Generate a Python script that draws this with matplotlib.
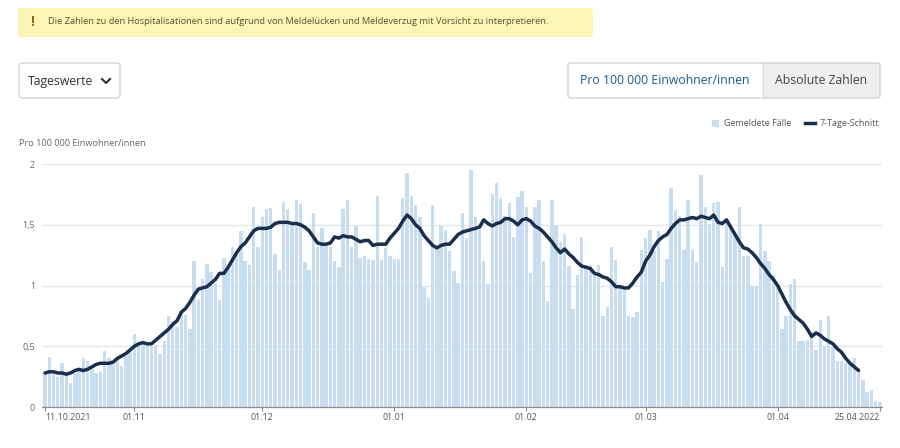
import matplotlib
matplotlib.use("Agg")
import matplotlib.pyplot as plt
import pandas as pd
from matplotlib.patches import FancyBboxPatch, Rectangle
from matplotlib.lines import Line2D

plt.rcParams['font.family'] = ['Open Sans', 'DejaVu Sans']

# daily hospitalisations per 100 000 inhabitants, from 11.10.2021
start_date = "2021-10-11"
cases = [
    0.28, 0.41, 0.29, 0.25, 0.36, 0.26, 0.20, 0.28, 0.31, 0.40,
    0.38, 0.31, 0.28, 0.29, 0.46, 0.40, 0.38, 0.42, 0.34, 0.42,
    0.47, 0.60, 0.53, 0.53, 0.53, 0.49, 0.51, 0.44, 0.54, 0.75,
    0.71, 0.66, 0.80, 0.76, 0.64, 1.20, 0.88, 1.05, 1.18, 1.11,
    1.02, 0.88, 1.23, 1.15, 1.32, 1.28, 1.45, 1.20, 1.17, 1.65,
    1.32, 1.56, 1.63, 1.64, 1.26, 1.13, 1.69, 1.63, 1.52, 1.70,
    1.67, 1.19, 1.13, 1.60, 1.32, 1.47, 1.35, 1.32, 1.20, 1.15,
    1.63, 1.70, 1.32, 1.49, 1.23, 1.24, 1.22, 1.21, 1.74, 1.21,
    1.31, 1.24, 1.22, 1.22, 1.72, 1.93, 1.74, 1.66, 1.56, 0.99,
    0.90, 1.66, 1.30, 1.49, 1.46, 1.28, 1.12, 1.02, 1.60, 1.39,
    1.95, 1.56, 1.46, 1.20, 1.01, 1.75, 1.84, 1.72, 1.57, 1.68,
    1.40, 1.73, 1.78, 1.65, 1.10, 1.65, 1.70, 1.20, 0.87, 1.70,
    1.50, 1.36, 1.42, 1.16, 0.81, 1.09, 1.40, 1.17, 1.17, 1.10,
    1.17, 0.75, 0.82, 1.32, 1.21, 0.98, 0.97, 0.75, 0.74, 0.78,
    1.29, 1.39, 1.46, 1.28, 1.45, 1.03, 1.22, 1.80, 1.62, 1.57,
    1.29, 1.70, 1.29, 1.19, 1.91, 1.65, 1.51, 1.68, 1.69, 1.15,
    1.53, 1.49, 1.43, 1.65, 1.24, 1.24, 1.00, 1.00, 1.51, 1.28,
    1.20, 1.09, 0.98, 0.64, 0.75, 1.01, 1.05, 0.54, 0.54, 0.55,
    0.62, 0.47, 0.72, 0.50, 0.75, 0.50, 0.38, 0.38, 0.36, 0.35,
    0.40, 0.32, 0.22, 0.12, 0.14, 0.05, 0.04,
]

# 7-day average, ends a few days before the last report
avg7 = [
    0.28, 0.29, 0.29, 0.28, 0.28, 0.27, 0.28, 0.30, 0.31, 0.30,
    0.31, 0.33, 0.35, 0.36, 0.36, 0.36, 0.37, 0.40, 0.42, 0.44,
    0.47, 0.50, 0.52, 0.53, 0.52, 0.52, 0.55, 0.58, 0.61, 0.64,
    0.68, 0.71, 0.78, 0.81, 0.86, 0.92, 0.97, 0.98, 0.99, 1.02,
    1.05, 1.10, 1.10, 1.15, 1.21, 1.27, 1.32, 1.35, 1.40, 1.45,
    1.47, 1.47, 1.47, 1.48, 1.51, 1.52, 1.52, 1.52, 1.51, 1.51,
    1.50, 1.48, 1.45, 1.40, 1.35, 1.34, 1.34, 1.35, 1.40, 1.39,
    1.41, 1.40, 1.40, 1.38, 1.36, 1.37, 1.37, 1.33, 1.34, 1.34,
    1.34, 1.39, 1.43, 1.47, 1.53, 1.58, 1.55, 1.50, 1.47, 1.41,
    1.37, 1.33, 1.31, 1.33, 1.34, 1.34, 1.38, 1.42, 1.44, 1.45,
    1.46, 1.47, 1.48, 1.54, 1.51, 1.49, 1.51, 1.52, 1.55, 1.55,
    1.53, 1.50, 1.54, 1.55, 1.53, 1.49, 1.47, 1.44, 1.40, 1.36,
    1.31, 1.27, 1.30, 1.26, 1.23, 1.19, 1.16, 1.15, 1.14, 1.10,
    1.09, 1.07, 1.06, 1.03, 0.99, 0.99, 0.98, 0.98, 1.02, 1.07,
    1.11, 1.20, 1.25, 1.32, 1.37, 1.40, 1.42, 1.47, 1.51, 1.54,
    1.54, 1.55, 1.56, 1.55, 1.57, 1.56, 1.55, 1.58, 1.52, 1.51,
    1.54, 1.48, 1.42, 1.36, 1.31, 1.30, 1.27, 1.23, 1.18, 1.14,
    1.09, 1.05, 1.00, 0.93, 0.86, 0.80, 0.75, 0.72, 0.69, 0.64,
    0.58, 0.61, 0.59, 0.56, 0.54, 0.52, 0.48, 0.45, 0.40, 0.36,
    0.33, 0.30,
]

y_ticks = [0, 0.5, 1, 1.5, 2]
y_tick_labels = ["0", "0,5", "1", "1,5", "2"]
x_tick_dates = ["2021-10-11", "2021-11-01", "2021-12-01", "2022-01-01",
                "2022-02-01", "2022-03-01", "2022-04-01", "2022-04-25"]
x_tick_labels = ["11.10.2021", "01.11", "01.12", "01.01",
                 "01.02", "01.03", "01.04", "25.04.2022"]

BAR_COLOR = "#c9ddf1"
LINE_COLOR = "#1b2f4c"
GREY = "#666666"

days = pd.date_range(start_date, periods=len(cases), freq="D")
avg_days = days[:len(avg7)]

W, H = 900, 448
fig = plt.figure(figsize=(W / 100, H / 100), dpi=100)


def fx(x):
    return x / W


def fy(y):
    return 1 - y / H


# --- header widgets ---
fig.patches.append(FancyBboxPatch((fx(18), fy(37)), fx(575), 29 / H,
                                  boxstyle="round,pad=0,rounding_size=0.004",
                                  transform=fig.transFigure, fc="#fcf5b6", ec="none"))
fig.text(fx(32), fy(22), "!", fontsize=10, fontweight="bold", color="#8a6a1c",
         ha="center", va="center")
fig.text(fx(48), fy(22), "Die Zahlen zu den Hospitalisationen sind aufgrund von "
         "Meldelücken und Meldeverzug mit Vorsicht zu interpretieren.",
         fontsize=6.7, color="#5a5330", va="center")

fig.patches.append(FancyBboxPatch((fx(19), fy(98)), fx(101), 35 / H,
                                  boxstyle="round,pad=0,rounding_size=0.005",
                                  transform=fig.transFigure, fc="white", ec="#cfcfcf", lw=0.9))
fig.text(fx(28), fy(81), "Tageswerte", fontsize=8.8, color="#333333", va="center")
fig.lines.append(Line2D([fx(102), fx(106), fx(110)], [fy(79), fy(83), fy(79)],
                        transform=fig.transFigure, color="#333333", lw=1.5))

fig.patches.append(Rectangle((fx(763), fy(98)), fx(117), 35 / H,
                             transform=fig.transFigure, fc="#efefef", ec="none"))
fig.patches.append(FancyBboxPatch((fx(568), fy(98)), fx(312), 35 / H,
                                  boxstyle="round,pad=0,rounding_size=0.004",
                                  transform=fig.transFigure, fc="none", ec="#cfcfcf", lw=0.9))
fig.lines.append(Line2D([fx(763), fx(763)], [fy(63), fy(98)],
                        transform=fig.transFigure, color="#d8d8d8", lw=0.9))
fig.text(fx(665), fy(81), "Pro 100 000 Einwohner/innen", fontsize=8.8,
         color="#1f5b8b", ha="center", va="center")
fig.text(fx(821), fy(81), "Absolute Zahlen", fontsize=8.8,
         color="#444444", ha="center", va="center")

# legend
fig.patches.append(Rectangle((fx(712), fy(127)), fx(7), 7 / H,
                             transform=fig.transFigure, fc=BAR_COLOR, ec="none"))
fig.text(fx(724), fy(123), "Gemeldete Fälle", fontsize=6.5, color="#555555", va="center")
fig.lines.append(Line2D([fx(805), fx(815)], [fy(123), fy(123)],
                        transform=fig.transFigure, color=LINE_COLOR, lw=2.5))
fig.text(fx(820), fy(123), "7-Tage-Schnitt", fontsize=6.5, color="#555555", va="center")

fig.text(fx(19), fy(143), "Pro 100 000 Einwohner/innen", fontsize=6.6,
         color=GREY, va="center")

# --- chart ---
ax = fig.add_axes([fx(42), fy(407), fx(882 - 42), (407 - 164) / H])
ax.bar(days, cases, width=0.8, color=BAR_COLOR, zorder=2)
ax.plot(avg_days, avg7, color=LINE_COLOR, lw=2.5, zorder=3,
        solid_capstyle="round", solid_joinstyle="round")

ax.set_ylim(0, 2)
ax.set_yticks(y_ticks)
ax.set_yticklabels(y_tick_labels)
ax.set_xlim(days[0] - pd.Timedelta(days=0.7), days[-1] + pd.Timedelta(days=0.5))
ax.set_xticks(pd.to_datetime(x_tick_dates))
ax.set_xticklabels(x_tick_labels)
labels = ax.get_xticklabels()
labels[0].set_ha("left")
labels[-1].set_ha("right")

ax.grid(axis="y", color="#e6e6e6", lw=0.9, zorder=0)
ax.set_axisbelow(True)
for side in ("top", "right", "left"):
    ax.spines[side].set_visible(False)
ax.spines["bottom"].set_color("#8c8c8c")
ax.spines["bottom"].set_linewidth(0.9)
ax.tick_params(axis="y", length=0, pad=5, labelsize=6.4, labelcolor=GREY)
ax.tick_params(axis="x", length=3, width=0.8, color="#8c8c8c", pad=1.5,
               labelsize=6.4, labelcolor="#555555")

fig.savefig("out.png", dpi=100)
